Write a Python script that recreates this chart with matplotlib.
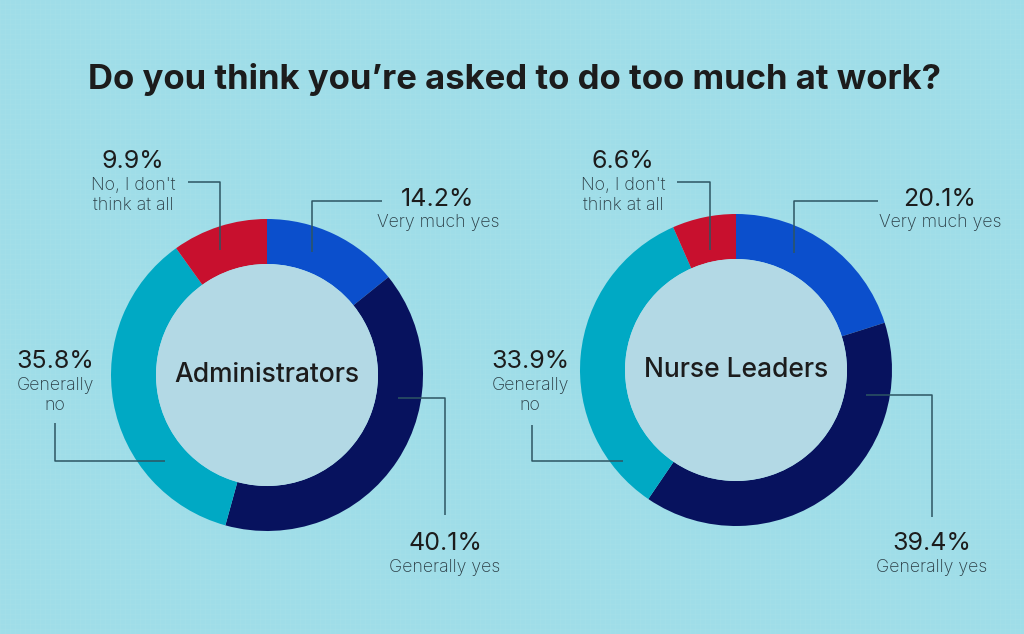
import matplotlib.pyplot as plt
from matplotlib.patches import Circle

# Data
categories = ['Very much yes', 'Generally yes', 'Generally no', "No, I don't\nthink at all"]
admin_values = [14.2, 40.1, 35.8, 9.9]
nurse_values = [20.1, 39.4, 33.9, 6.6]
group_names = ['Administrators', 'Nurse Leaders']

colors = ['#0b4fcc', '#07125e', '#00a9c4', '#c8102e']
bg = '#9fdde8'
inner = '#b3d9e5'
line_col = '#2d5562'
text_col = '#1c1c1c'

W, H = 1024, 634
fig = plt.figure(figsize=(W / 100, H / 100), dpi=100, facecolor=bg)
ax = fig.add_axes([0, 0, 1, 1])
ax.set_facecolor(bg)


def Y(y):
    # pixel rows from the top -> data coords
    return H - y


# faint grid texture of the background
for gx in range(0, W, 5):
    ax.axvline(gx, color='white', lw=0.4, alpha=0.06, zorder=0)
for gy in range(0, H, 5):
    ax.axhline(gy, color='white', lw=0.4, alpha=0.06, zorder=0)

centers = [(267, Y(375)), (736, Y(370))]
R_out, R_in = 156, 111

for values, c, name in zip([admin_values, nurse_values], centers, group_names):
    ax.pie(values, colors=colors, startangle=90, counterclock=False,
           center=c, radius=R_out, frame=True,
           wedgeprops=dict(width=R_out - R_in, edgecolor='none'))
    ax.add_patch(Circle(c, R_in, facecolor=inner, edgecolor='none', zorder=3))
    ax.text(c[0], c[1], name, ha='center', va='center', fontsize=19,
            fontfamily='Inter', fontweight='medium', color=text_col, zorder=4)


def leader(pts, pct, label, tx, ty_pct, ty_lab):
    xs = [p[0] for p in pts]
    ys = [Y(p[1]) for p in pts]
    ax.plot(xs, ys, color=line_col, lw=1.1, zorder=5, solid_capstyle='butt')
    ax.text(tx, Y(ty_pct), pct, ha='center', va='center', fontsize=18,
            fontfamily='Inter', fontweight='normal', color=text_col, zorder=5)
    ax.text(tx, Y(ty_lab), label, ha='center', va='top', fontsize=12.8,
            fontfamily='Inter', fontweight='light', color='#2a3c44',
            linespacing=1.25, zorder=5)


# Administrators
leader([(188, 182), (220, 182), (220, 250)], f'{admin_values[3]}%', categories[3], 133, 161, 177)
leader([(312, 252), (312, 201), (382, 201)], f'{admin_values[0]}%', categories[0], 438, 199, 214)
leader([(55, 423), (55, 461), (165, 461)], f'{admin_values[2]}%', 'Generally\nno', 55, 362, 377)
leader([(398, 398), (445, 398), (445, 515)], f'{admin_values[1]}%', categories[1], 445, 543, 559)

# Nurse Leaders
leader([(677, 182), (710, 182), (710, 250)], f'{nurse_values[3]}%', categories[3], 623, 161, 177)
leader([(794, 253), (794, 201), (878, 201)], f'{nurse_values[0]}%', categories[0], 940, 199, 214)
leader([(532, 425), (532, 461), (623, 461)], f'{nurse_values[2]}%', 'Generally\nno', 530, 362, 377)
leader([(866, 395), (932, 395), (932, 517)], f'{nurse_values[1]}%', categories[1], 932, 543, 559)

ax.text(W / 2 + 2, Y(79), 'Do you think you\u2019re asked to do too much at work?',
        ha='center', va='center', fontsize=25, fontfamily='Inter',
        fontweight='bold', color=text_col)

ax.set_xlim(0, W)
ax.set_ylim(0, H)
ax.set_aspect('equal')
ax.axis('off')

fig.savefig('out.png', dpi=100, facecolor=bg)
